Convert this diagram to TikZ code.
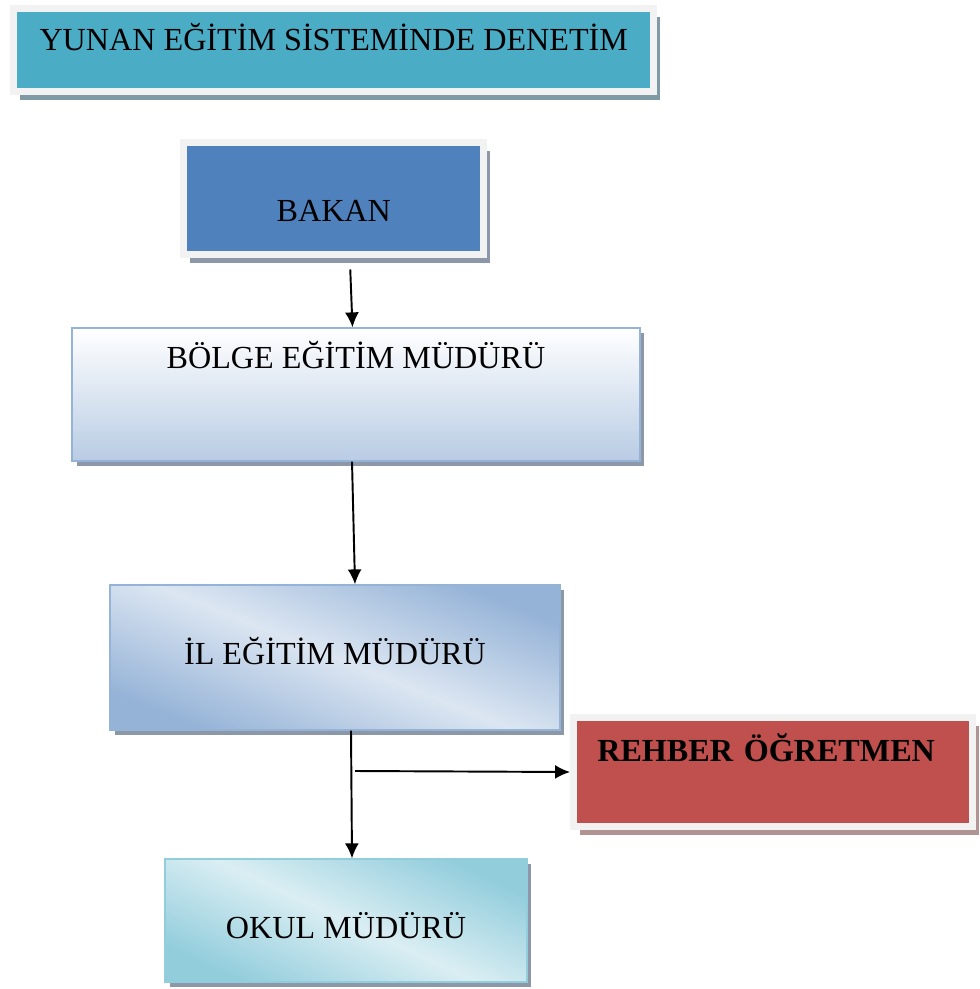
\documentclass[tikz,border=0pt]{standalone}
\usepackage{fontspec}
\setmainfont{Liberation Serif}
\usetikzlibrary{arrows.meta,positioning,shadows}

\definecolor{titleteal}{HTML}{4BACC6}
\definecolor{bakanblue}{HTML}{4F81BD}
\definecolor{rehberred}{HTML}{C0504D}
\definecolor{framegray}{HTML}{F2F2F2}
\definecolor{paleblue}{HTML}{DCE6F2}
\definecolor{midblue}{HTML}{95B3D7}
\definecolor{lightblue}{HTML}{B8CCE4}
\definecolor{paleteal}{HTML}{DAEEF3}
\definecolor{midteal}{HTML}{92CDDC}
\definecolor{shadowgray}{HTML}{8C98A8}
\definecolor{shadowred}{HTML}{B09494}
\definecolor{shadowteal}{HTML}{7F9AA4}

\begin{document}
\begin{tikzpicture}[
		x=0.02cm, y=-0.02cm,
		arrow/.style={line width=1.1pt, -{Latex[length=3mm,width=2.8mm]}},
		box/.style={rectangle, inner sep=0pt, font=\fontsize{18.3}{21}\selectfont, text height=0.42cm, text depth=0cm},
		framed/.style={box, draw=framegray, line width=0.14cm, drop shadow={shadow xshift=0.13cm, shadow yshift=-0.17cm, opacity=1, fill=#1}},
		plain/.style={box, draw=#1, line width=0.7pt, drop shadow={shadow xshift=0.09cm, shadow yshift=-0.1cm, opacity=1, fill=shadowgray}},
	]
	\useasboundingbox (0,0) rectangle (979,989);

	\node[framed=shadowteal, fill=titleteal, minimum width=12.81cm, minimum height=1.68cm, text depth=0.4cm] (title) at (333.75,50) {YUNAN EĞİTİM SİSTEMİNDE DENETİM};
	\node[framed=shadowgray, fill=bakanblue, minimum width=6.01cm, minimum height=2.25cm, text height=0.93cm] (bakan) at (333.75,198.75) {BAKAN};
	\node[plain=midblue, top color=white, bottom color=lightblue, minimum width=11.36cm, minimum height=2.66cm, text depth=1.46cm] (bolge) at (356,394.5) {BÖLGE EĞİTİM MÜDÜRÜ};
	\node[plain=midblue, left color=midblue, right color=midblue, middle color=paleblue, shading angle=158, minimum width=9cm, minimum height=2.9cm, text depth=0.14cm] (il) at (335,657.5) {İL EĞİTİM MÜDÜRÜ};
	\node[framed=shadowred, fill=rehberred, font=\fontsize{18.3}{21}\selectfont\bfseries, text width=7.04cm, align=left, minimum width=7.99cm, minimum height=2.2cm, text depth=0.84cm] (rehber) at (773.25,772) {REHBER ÖĞRETMEN};
	\node[plain=midteal, left color=midteal, right color=midteal, middle color=paleteal, shading angle=155, minimum width=7.24cm, minimum height=2.46cm, text height=0.72cm] (okul) at (346,920.5) {OKUL MÜDÜRÜ};

	\coordinate (split) at (355,771);

	\draw[arrow] ([xshift=0.33cm, yshift=-0.22cm]bakan.south) -- ([xshift=-0.07cm]bolge.north);
	\draw[arrow] ([xshift=-0.08cm]bolge.south) -- ([xshift=0.4cm]il.north);
	\draw[arrow] ([xshift=0.32cm]il.south) -- ([xshift=0.12cm]okul.north);
	\draw[arrow] (split) -- (rehber.west);
\end{tikzpicture}
\end{document}
